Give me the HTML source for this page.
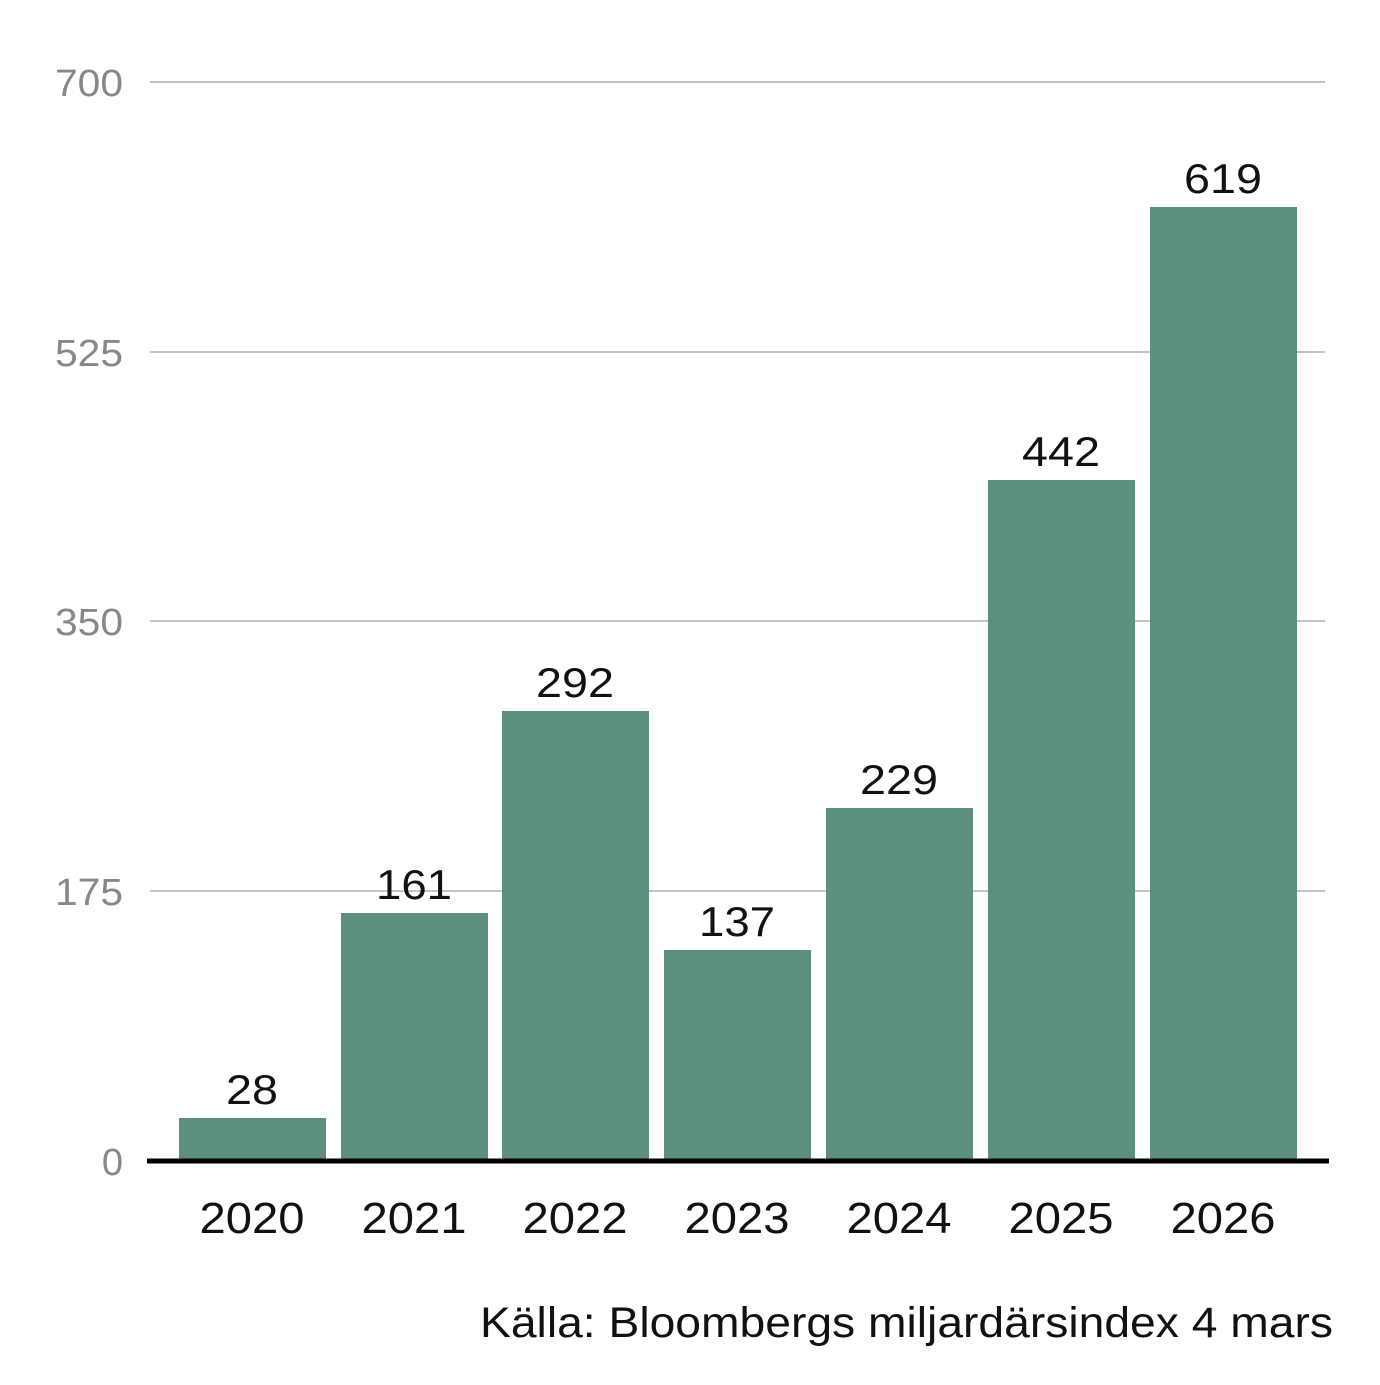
<!DOCTYPE html>
<html><head><meta charset="utf-8"><style>
html,body{margin:0;padding:0;background:#fff;}
svg text{font-family:"Liberation Sans",Arial,sans-serif;}
</style></head><body>
<svg width="1380" height="1380" viewBox="0 0 1380 1380" xmlns="http://www.w3.org/2000/svg">
<g stroke="#a0a0a0" stroke-width="1.2">
<line x1="150" y1="82" x2="1325" y2="82"/>
<line x1="150" y1="352" x2="1325" y2="352"/>
<line x1="150" y1="621" x2="1325" y2="621"/>
<line x1="150" y1="891" x2="1325" y2="891"/>
</g>
<g fill="#888" font-size="38" text-anchor="end">
<text x="123" y="96" textLength="68" lengthAdjust="spacingAndGlyphs">700</text>
<text x="123" y="366" textLength="68" lengthAdjust="spacingAndGlyphs">525</text>
<text x="123" y="635" textLength="68" lengthAdjust="spacingAndGlyphs">350</text>
<text x="123" y="905" textLength="68" lengthAdjust="spacingAndGlyphs">175</text>
<text x="123" y="1175">0</text>
</g>
<g fill="#5d8f7f">
<rect x="179" y="1118" width="147" height="43"/>
<rect x="341" y="913" width="147" height="248"/>
<rect x="502" y="711" width="147" height="450"/>
<rect x="664" y="950" width="147" height="211"/>
<rect x="826" y="808" width="147" height="353"/>
<rect x="988" y="480" width="147" height="681"/>
<rect x="1150" y="207" width="147" height="954"/>
</g>
<line x1="147" y1="1161" x2="1329" y2="1161" stroke="#000" stroke-width="5"/>
<g fill="#111" font-size="42" text-anchor="middle">
<text x="252" y="1104" textLength="52" lengthAdjust="spacingAndGlyphs">28</text>
<text x="414" y="899" textLength="76" lengthAdjust="spacingAndGlyphs">161</text>
<text x="575" y="697" textLength="78" lengthAdjust="spacingAndGlyphs">292</text>
<text x="737" y="936" textLength="76" lengthAdjust="spacingAndGlyphs">137</text>
<text x="899" y="794" textLength="78" lengthAdjust="spacingAndGlyphs">229</text>
<text x="1061" y="466" textLength="78" lengthAdjust="spacingAndGlyphs">442</text>
<text x="1223" y="193" textLength="78" lengthAdjust="spacingAndGlyphs">619</text>
</g>
<g fill="#111" font-size="44" text-anchor="middle">
<text x="252" y="1233" textLength="105" lengthAdjust="spacingAndGlyphs">2020</text>
<text x="414" y="1233" textLength="105" lengthAdjust="spacingAndGlyphs">2021</text>
<text x="575" y="1233" textLength="105" lengthAdjust="spacingAndGlyphs">2022</text>
<text x="737" y="1233" textLength="105" lengthAdjust="spacingAndGlyphs">2023</text>
<text x="899" y="1233" textLength="105" lengthAdjust="spacingAndGlyphs">2024</text>
<text x="1061" y="1233" textLength="105" lengthAdjust="spacingAndGlyphs">2025</text>
<text x="1223" y="1233" textLength="105" lengthAdjust="spacingAndGlyphs">2026</text>
</g>
<text x="1333" y="1337" fill="#111" font-size="43" text-anchor="end" textLength="853" lengthAdjust="spacingAndGlyphs">Källa: Bloombergs miljardärsindex 4 mars</text>
</svg>
</body></html>
